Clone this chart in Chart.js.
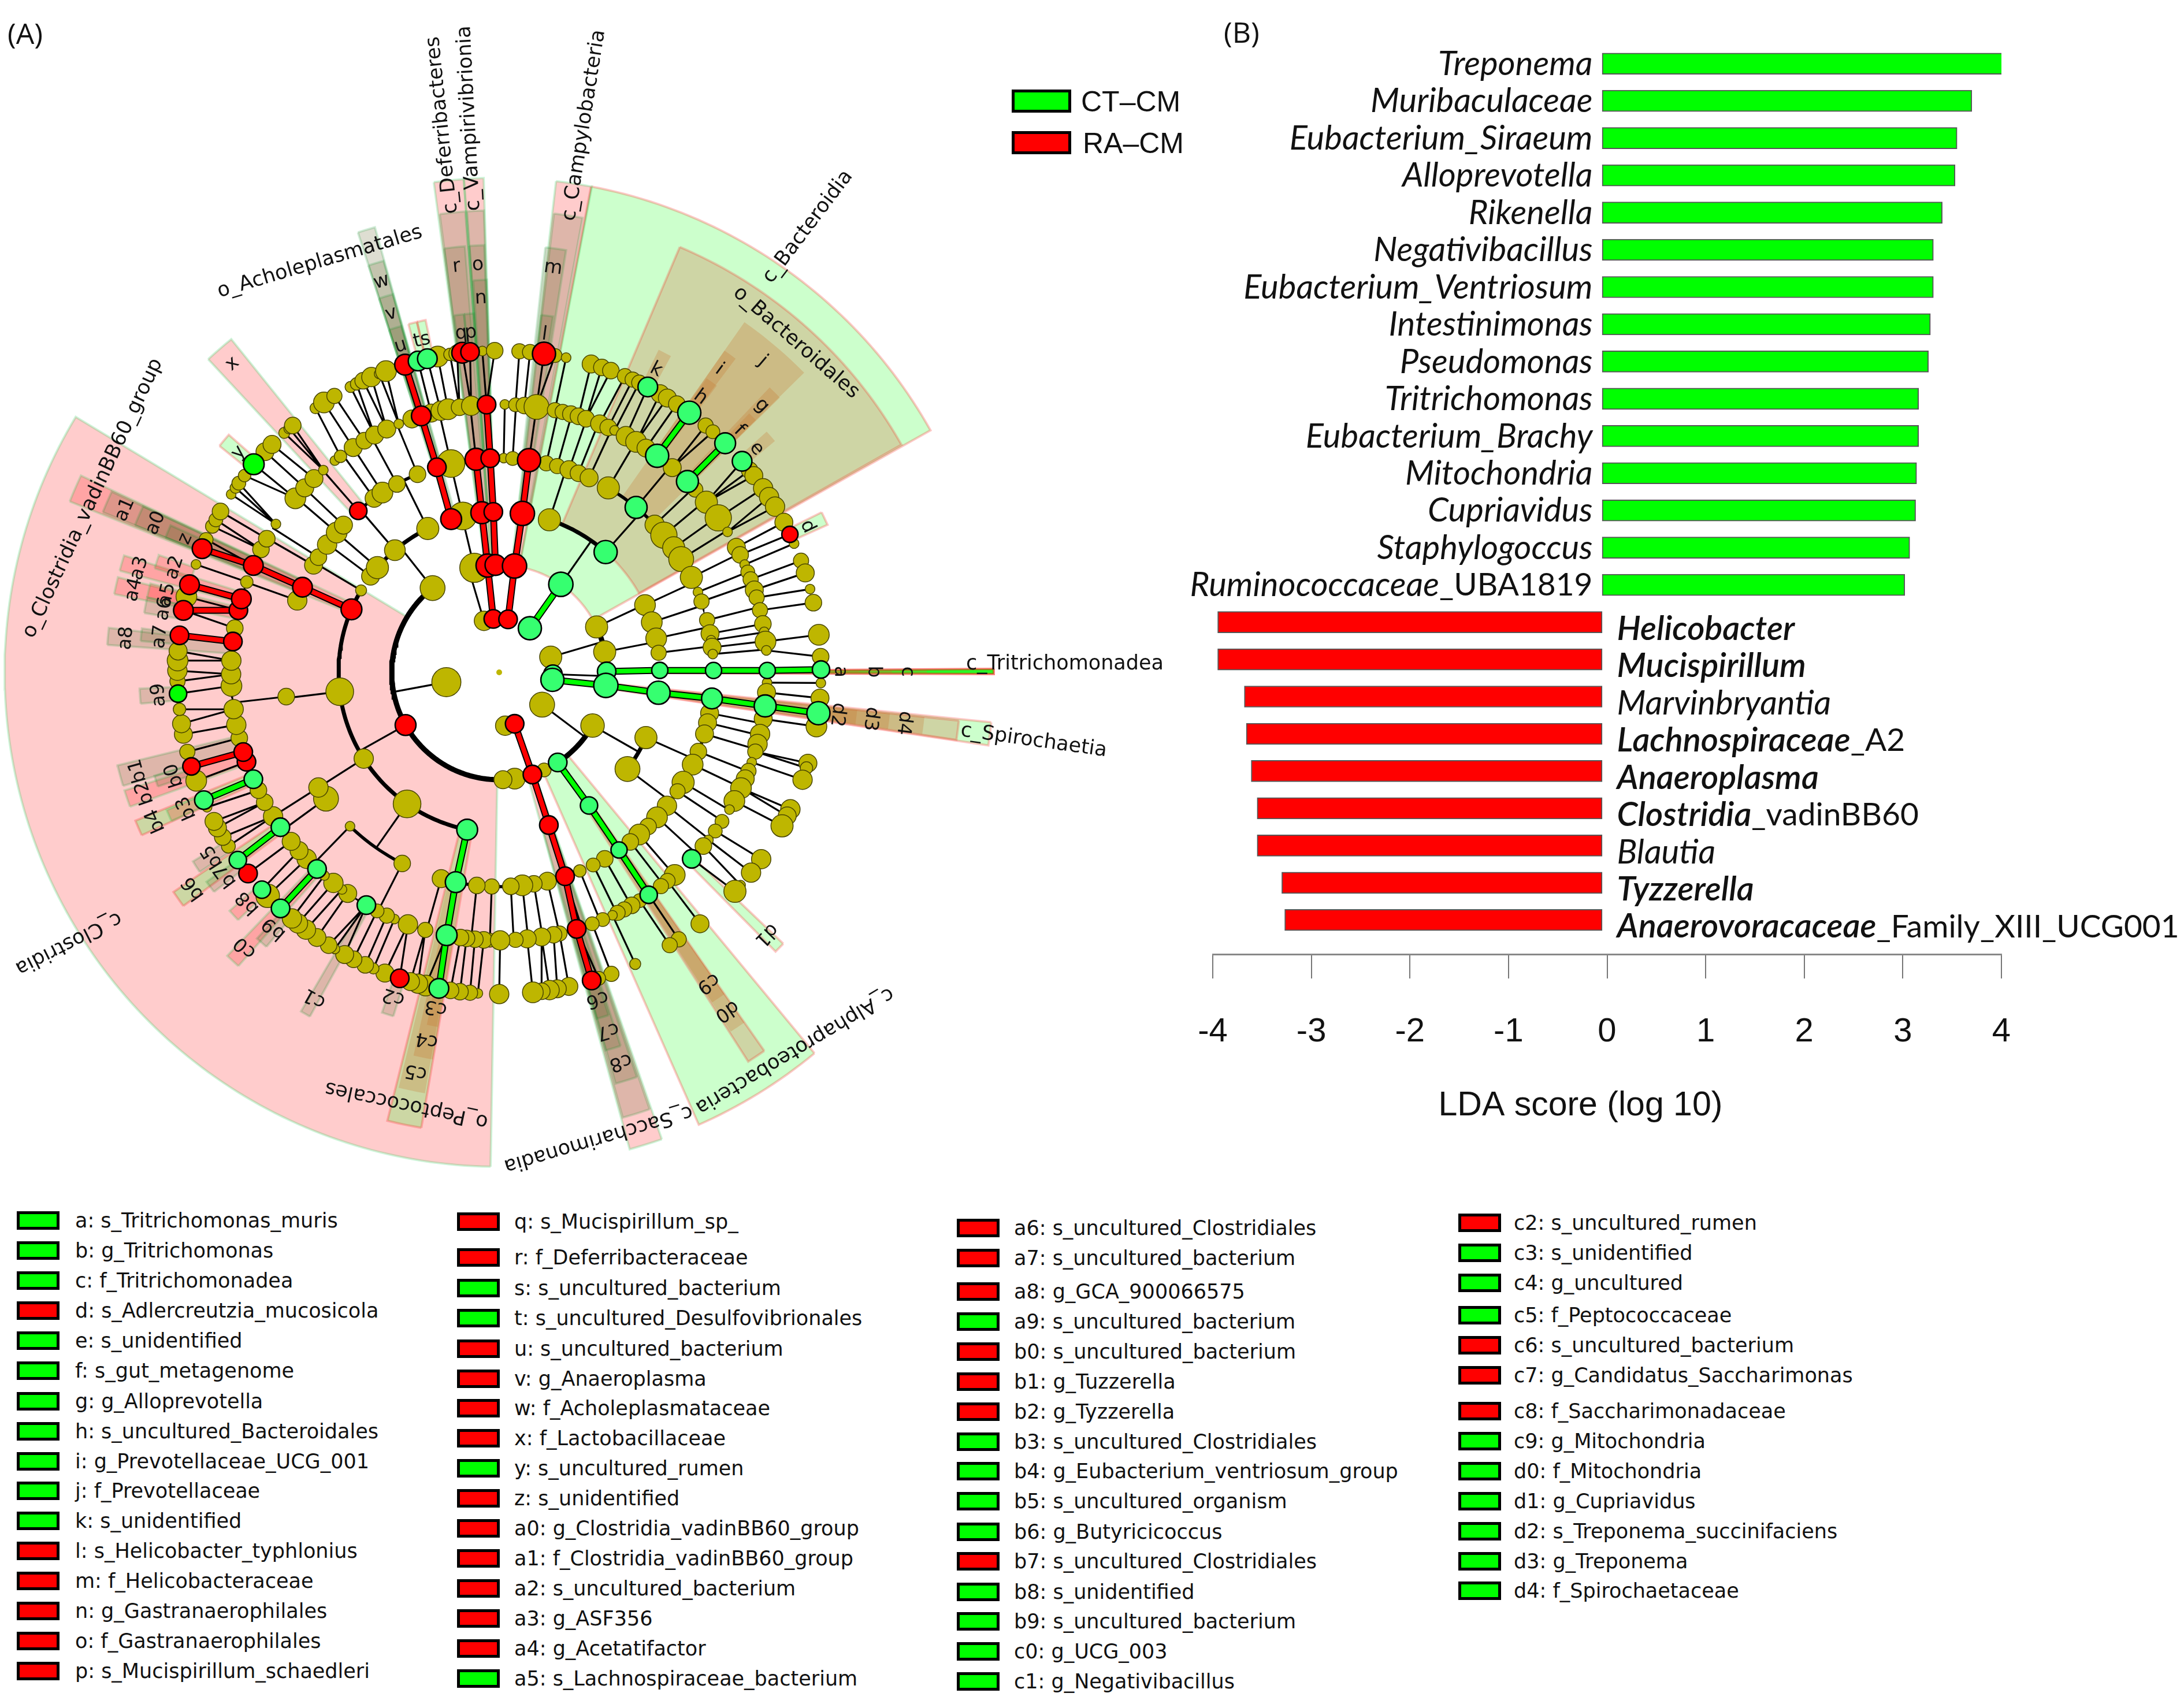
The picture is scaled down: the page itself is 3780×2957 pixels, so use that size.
<!DOCTYPE html>
<html>
<head>
<meta charset="utf-8">
<script src="https://cdn.jsdelivr.net/npm/chart.js@4"></script>
<style>
  body { margin: 0; background: #fff; width: 3780px; height: 2957px; position: relative; overflow: hidden; }
  canvas { position: absolute; top: 0; }
  .t { position: absolute; white-space: nowrap; line-height: 1; transform: translateY(-50%); color: #111; }
  .sw { position: absolute; box-sizing: border-box; border: 5px solid #000; transform: translateY(-50%); }
  .leg { font-family: "DejaVu Sans"; font-size: 35px; }
</style>
</head>
<body>
<canvas id="clado" width="2100" height="2060" style="left:0"></canvas>
<canvas id="bars" width="1740" height="2040" style="left:2040px"></canvas>
<script>
// ---- panel B values
const barNames = ['Treponema', 'Muribaculaceae', 'Eubacterium_Siraeum', 'Alloprevotella', 'Rikenella', 'Negativibacillus',
  'Eubacterium_Ventriosum', 'Intestinimonas', 'Pseudomonas', 'Tritrichomonas', 'Eubacterium_Brachy', 'Mitochondria',
  'Cupriavidus', 'Staphylogoccus', 'Ruminococcaceae', 'Helicobacter', 'Mucispirillum', 'Marvinbryantia',
  'Lachnospiraceae', 'Anaeroplasma', 'Clostridia', 'Blautia', 'Tyzzerella', 'Anaerovoracaceae'];
const barSuffix = { Ruminococcaceae: '_UBA1819', Lachnospiraceae: '_A2', Clostridia: '_vadinBB60', Anaerovoracaceae: '_Family_XIII_UCG001' };
const barBold = ['Helicobacter', 'Mucispirillum', 'Lachnospiraceae', 'Anaeroplasma', 'Clostridia', 'Tyzzerella', 'Anaerovoracaceae'];
const barValues = [4.02, 3.70, 3.55, 3.53, 3.40, 3.31, 3.31, 3.28, 3.26, 3.16, 3.16, 3.14, 3.13, 3.07, 3.02,
  -3.95, -3.95, -3.68, -3.66, -3.61, -3.55, -3.55, -3.30, -3.27];

// ---- panel A key
const keyNames = ['a: s_Tritrichomonas_muris', 'b: g_Tritrichomonas', 'c: f_Tritrichomonadea', 'd: s_Adlercreutzia_mucosicola',
  'e: s_unidentified', 'f: s_gut_metagenome', 'g: g_Alloprevotella', 'h: s_uncultured_Bacteroidales', 'i: g_Prevotellaceae_UCG_001',
  'j: f_Prevotellaceae', 'k: s_unidentified', 'l: s_Helicobacter_typhlonius', 'm: f_Helicobacteraceae', 'n: g_Gastranaerophilales',
  'o: f_Gastranaerophilales', 'p: s_Mucispirillum_schaedleri',
  'q: s_Mucispirillum_sp_', 'r: f_Deferribacteraceae', 's: s_uncultured_bacterium', 't: s_uncultured_Desulfovibrionales',
  'u: s_uncultured_bacterium', 'v: g_Anaeroplasma', 'w: f_Acholeplasmataceae', 'x: f_Lactobacillaceae', 'y: s_uncultured_rumen',
  'z: s_unidentified', 'a0: g_Clostridia_vadinBB60_group', 'a1: f_Clostridia_vadinBB60_group', 'a2: s_uncultured_bacterium',
  'a3: g_ASF356', 'a4: g_Acetatifactor', 'a5: s_Lachnospiraceae_bacterium',
  'a6: s_uncultured_Clostridiales', 'a7: s_uncultured_bacterium', 'a8: g_GCA_900066575', 'a9: s_uncultured_bacterium',
  'b0: s_uncultured_bacterium', 'b1: g_Tuzzerella', 'b2: g_Tyzzerella', 'b3: s_uncultured_Clostridiales',
  'b4: g_Eubacterium_ventriosum_group', 'b5: s_uncultured_organism', 'b6: g_Butyricicoccus', 'b7: s_uncultured_Clostridiales',
  'b8: s_unidentified', 'b9: s_uncultured_bacterium', 'c0: g_UCG_003', 'c1: g_Negativibacillus',
  'c2: s_uncultured_rumen', 'c3: s_unidentified', 'c4: g_uncultured', 'c5: f_Peptococcaceae', 'c6: s_uncultured_bacterium',
  'c7: g_Candidatus_Saccharimonas', 'c8: f_Saccharimonadaceae', 'c9: g_Mitochondria', 'd0: f_Mitochondria', 'd1: g_Cupriavidus',
  'd2: s_Treponema_succinifaciens', 'd3: g_Treponema', 'd4: f_Spirochaetaceae'];
const keyGroups = 'gggrgggggggrrrrr' + 'rrggrrrrgrrrrrrg' + 'rrrgrrrggggrgggg' + 'rgggrrrgggggg';

// ---- cladogram nodes: [angle clockwise from top, dot size, kind] kind 1 mint, 2 red, 3 pure green
const phylumNodes = [[-100.5, 21], [-16.5, 14], [-6.3, 16, 2], [9.5, 16, 2], [34.8, 20, 1], [73.5, 16], [92, 16, 1], [98, 20, 1],
  [127, 18], [163.3, 16, 2], [173.6, 14]];
// class and order nodes carry their parent's angle as a fourth value
const classNodes = [[-119.4, 18, 2, -100.5], [-38.3, 18, 0, -100.5], [-13.4, 21, 0, -16.5], [-6.2, 20, 2, -6.3], [-2, 18, 2, -6.3],
  [8.2, 21, 2, 9.5], [35, 21, 1, 34.8], [65, 16, 0, 73.5], [79, 16, 0, 73.5], [89.5, 16, 1, 92], [97, 21, 1, 98], [119.7, 17, 0, 127],
  [147, 16, 1, 127], [155.3, 10, 0, 163.3], [162, 16, 2, 163.3], [171.7, 15, 0, -100.5], [178, 13, 0, -100.5]];
const orderNodes = [[-168.5, 18, 1, -119.4], [-145, 20, 0, -119.4], [-122.5, 14, 0, -119.4], [-96.9, 20, 0, -119.4], [-66.9, 18, 2, -119.4],
  [-59.3, 8, 0, -119.4], [-53.2, 13, 0, -38.3], [-49.3, 16, 0, -38.3], [-40.5, 15, 0, -38.3], [-26.4, 16, 0, -38.3], [-17.4, 18, 2, -13.4],
  [-13.1, 20, 0, -13.4], [-6.2, 19, 2, -6.2], [-2.1, 16, 2, -2], [8.3, 21, 2, 8.2], [18.2, 16, 0, 35], [41.5, 20, 1, 35], [65.2, 15, 0, 65],
  [71.8, 15, 0, 65], [77.8, 15, 0, 79], [83, 11, 0, 79], [89.3, 14, 1, 89.5], [97.3, 20, 1, 97], [114, 16, 0, 119.7], [127, 18, 0, 119.7],
  [146, 15, 1, 147], [162, 16, 2, 162]];
const familyNodes = [[-178, 11], [-174, 12], [-168.3, 18, 1], [-164.3, 13], [-153.1, 12], [-135.9, 7], [-126.1, 18], [-122.5, 14], [-96.5, 12],
  [-70.4, 14], [-66.6, 17, 2], [-60, 13], [-57.5, 12], [-53.4, 14], [-49.3, 15], [-46.6, 13], [-41.1, 15, 2], [-35.7, 13], [-33, 15], [-28.5, 12],
  [-22.4, 12], [-16.9, 16, 2], [-13, 20], [-6.2, 19, 2], [-2.4, 16, 2], [1.2, 7], [3.6, 10], [8, 20, 2], [12.7, 11], [15.7, 11], [19, 13],
  [21.7, 12], [24.8, 13], [30.6, 16], [39.7, 19, 1], [46.5, 14], [50.2, 19], [54.5, 16], [58.1, 18], [63.7, 16], [68, 7], [70.7, 11], [75.9, 11],
  [79.6, 13], [81.4, 7], [83.3, 13], [85.1, 7], [89.5, 14, 1], [97, 18, 1], [101, 13], [103.6, 13], [106.7, 13], [111.7, 12], [115.5, 15],
  [120.9, 16], [123.7, 11], [128.5, 14], [132.6, 15], [136, 12], [139.2, 15], [142.3, 12], [146, 14, 1], [150.5, 12], [154, 10], [157.9, 9],
  [162.1, 16, 2], [167, 13], [170.7, 12], [173.8, 15], [176.9, 12]];
const genusNodes = [[-178, 10], [-176.7, 12], [-174.8, 12], [-173, 12], [-171.7, 12], [-168.7, 18, 1], [-164, 11], [-160.1, 14], [-157, 7],
  [-155.2, 11], [-152.9, 10], [-150.3, 16, 1], [-145.6, 13], [-144.1, 7], [-141.8, 14], [-139.3, 7], [-137.2, 16, 1], [-134.1, 14], [-131.7, 13],
  [-129.1, 13], [-125.3, 16, 1], [-122.5, 14], [-119, 12], [-116.1, 12], [-113.5, 16, 1], [-109.5, 16, 2], [-107.3, 16, 2], [-104.2, 12],
  [-101.3, 14], [-97.9, 14], [-92.9, 15], [-90.4, 14], [-87.5, 14], [-83.4, 16, 2], [-80.5, 12], [-76.6, 16, 2], [-74.1, 17, 2], [-70.3, 9],
  [-66.5, 17, 2], [-62.7, 12], [-60.1, 12], [-56.4, 7], [-49.5, 15], [-46.5, 13], [-43.7, 13], [-41, 7], [-37.8, 7], [-36.3, 9], [-33, 13],
  [-30.2, 12], [-27.7, 13], [-24.8, 13], [-22, 7], [-19, 13], [-16.9, 17, 2], [-14.7, 13], [-12.6, 14], [-11, 15], [-8.5, 12], [-6, 14],
  [-2.7, 16, 2], [1.2, 7], [3.5, 10], [5.4, 12], [8, 18], [12, 11], [13.7, 11], [15.5, 12], [17.2, 12], [18.9, 12], [22, 13], [24, 12], [25.5, 7],
  [28.2, 14], [30.7, 15], [33.2, 13], [36.1, 20, 1], [40.2, 13], [44.6, 19, 1], [47, 11], [50.6, 16], [54.8, 19], [58.4, 7], [62.2, 13], [64, 12],
  [66.3, 7], [68, 10], [69.7, 11], [72.1, 13], [73.8, 11], [76.6, 11], [79.6, 12], [81.3, 7], [83.4, 15], [85.3, 7], [89.6, 14, 1], [92.2, 7],
  [94.3, 13], [97.2, 19, 1], [100, 13], [103.3, 14], [105.5, 14], [107.2, 11], [109.6, 7], [111.6, 11], [113.4, 13], [115.6, 15], [118.7, 15],
  [120.8, 7], [123.8, 10], [126.3, 10], [128.7, 7], [130.4, 12], [134.1, 16, 1], [139.1, 15], [141.1, 11], [142.9, 11], [146.1, 15, 1], [148.4, 10],
  [150.4, 12], [152.2, 11], [153.8, 11], [155, 7], [157.3, 10], [159.7, 10], [163.2, 16, 2], [167, 11], [168.3, 12], [170.9, 13], [174, 13],
  [176.5, 11], [179.8, 14]];
const speciesNodes = [[-17, 18, 2], [-14.6, 17, 1], [-12.9, 17, 1], [-11, 15], [-8.8, 9], [-7.5, 12], [-6.6, 18, 2], [-5.2, 16, 2], [-3, 7], [-0.8, 12],
  [3.6, 11], [5.5, 11], [8, 20, 2], [10, 10], [12, 7], [16.6, 13], [18.6, 12], [20.3, 12], [23, 11], [24.5, 11], [25.8, 11], [27.5, 17, 1], [30, 13],
  [31.5, 13], [33.5, 12], [36.2, 20, 1], [39.9, 11], [41.6, 10], [44.6, 18, 1], [49, 17, 1], [51.1, 12], [52.3, 13], [55.1, 14], [57, 14], [59, 14],
  [62.2, 13], [64.6, 14, 2], [66.4, 7], [69.7, 11], [72, 13], [75, 7], [77.5, 12], [83.3, 15], [87.2, 12], [89.5, 15, 1], [91.9, 7], [94.6, 13],
  [97.3, 20, 1], [99.7, 15], [106.4, 13], [107.3, 9], [109.5, 14], [115.2, 14], [116.5, 13], [118.5, 16], [125.5, 14], [128.5, 14], [131.4, 7],
  [132.9, 16], [141.4, 13], [146.1, 11], [148, 11], [155, 8], [159.6, 11], [162, 10], [163.3, 16, 2], [167.5, 13], [169.6, 13], [171, 14], [172.4, 12],
  [174, 15], [180, 14], [-176.2, 7], [-174.8, 11], [-173, 12], [-171.3, 12], [-169.2, 17, 1], [-166.8, 15], [-165.4, 14], [-164, 13], [-162, 16, 2],
  [-159.2, 13], [-157, 8], [-155.4, 12], [-153.1, 12], [-151.3, 13], [-149.3, 7], [-148, 12], [-145.5, 13], [-143.1, 14], [-141.3, 14], [-139.9, 14],
  [-137.2, 16, 1], [-134, 17], [-132.5, 15, 1], [-128.7, 16, 2], [-125.7, 15, 1], [-122.7, 10], [-120.8, 12], [-118.9, 13], [-117.6, 13], [-114.8, 7],
  [-113.4, 16, 1], [-109.7, 15], [-107, 15, 2], [-104.3, 11], [-101.1, 13], [-99.2, 13], [-96.6, 9], [-93.8, 15, 3], [-91.6, 11], [-89.7, 14],
  [-87.9, 15], [-86.2, 13], [-83.4, 16, 2], [-78.9, 17, 2], [-76.4, 15], [-74.2, 17, 2], [-70.4, 7], [-67.4, 17, 2], [-65.6, 10], [-63, 10], [-61.7, 10],
  [-60, 12], [-56.4, 7], [-55, 8], [-54, 10], [-52.3, 9], [-49.7, 18, 3], [-46.7, 13], [-44.9, 13], [-41.9, 8], [-40.7, 8], [-39.9, 12], [-34.8, 8],
  [-33, 15], [-30.8, 11], [-27.5, 8], [-26.3, 9], [-25, 12], [-23.4, 14], [-21.9, 7], [-20.6, 15]];
// coloured nodes here keep a plain black branch
const plainBranch = [39.7, 41.5];

// ---- shaded clades: [letter, level, from angle, to angle, kind]
const cladeShades = [
  ['', 2, 10.7, 60.7, 'g'], ['', 2, 6.6, 10.8, 'r'], ['', 2, -7.6, -4.1, 'r'], ['', 2, -4.1, -1.8, 'r'], ['', 2, -179, -58.9, 'r'],
  ['', 2, 160.8, 164.7, 'r'], ['', 2, 140.4, 156.2, 'g'], ['', 2, 89.6, 90.2, 'G'], ['', 2, 95.8, 98.5, 'g'],
  ['', 3, 23, 60.5, 'b'], ['', 3, -68.3, -64.8, 'r'], ['', 3, -170.3, -166, 'g'], ['', 3, -17.8, -15.6, 't'], ['', 3, 6.8, 10.4, 't'],
  ['', 3, -7.4, -4.2, 't'], ['', 3, -4, -1.9, 't'], ['', 3, 145, 147.4, 'b'], ['', 3, 161, 164.5, 't'], ['', 3, 96, 98.4, 'b'],
  ['j', 4, 35, 45.5, 'o'], ['x', 4, -42.9, -38.8, 'r'], ['w', 4, -17.8, -15.7, 't'], ['r', 4, -7.4, -4.6, 't'], ['o', 4, -4, -2, 't'],
  ['m', 4, 6.2, 9, 't'], ['a1', 4, -68, -65, 't'], ['c5', 4, -170, -166.4, 'o'], ['c8', 4, 161.2, 164.2, 't'], ['d0', 4, 145, 147.2, 'o'],
  ['d4', 4, 96, 98.3, 'o'], ['c', 4, 89.7, 90.1, 'o'],
  ['i', 5, 35, 37, 'o'], ['g', 5, 43.5, 45.6, 'o'], ['n', 5, -3.8, -1.8, 't'], ['v', 5, -17.8, -15.7, 't'], ['a0', 5, -68, -65, 't'],
  ['a3', 5, -75, -72.7, 'r'], ['a4', 5, -78.5, -76, 'r'], ['a8', 5, -86, -83.5, 't'], ['b1', 5, -106.8, -103.7, 't'], ['b2', 5, -110, -107.5, 'r'],
  ['b4', 5, -114.5, -112.2, 'g'], ['b6', 5, -126.5, -124, 'g'], ['c0', 5, -138.4, -136.2, 'r'], ['c1', 5, -151.2, -149.7, 't'], ['c4', 5, -170.3, -167.4, 'o'],
  ['c7', 5, 162, 164.3, 't'], ['c9', 5, 145, 147.2, 'o'], ['d1', 5, 133.7, 135.3, 'g'], ['d3', 5, 96, 98.3, 'o'], ['b', 5, 89.7, 90.1, 'o'],
  ['k', 6, 26.3, 28.5, 'o'], ['h', 6, 35.2, 37.2, 'o'], ['f', 6, 44, 45.5, 'o'], ['e', 6, 48, 50, 'o'], ['d', 6, 63.6, 65.8, 'g'],
  ['l', 6, 6.7, 8.6, 't'], ['q', 6, -7.2, -5.6, 't'], ['p', 6, -5.6, -4, 't'], ['u', 6, -17.8, -15.8, 't'], ['t', 6, -14.6, -13.2, 'g'], ['s', 6, -13.2, -11.8, 'g'],
  ['y', 6, -51, -48.7, 'g'], ['z', 6, -68, -65.9, 't'], ['a2', 6, -73.2, -71, 'r'], ['a5', 6, -78, -75.7, 'r'], ['a6', 6, -80.5, -78, 't'], ['a7', 6, -85, -83, 't'],
  ['a9', 6, -95, -92.6, 't'], ['b0', 6, -108.5, -106.7, 't'], ['b3', 6, -114.4, -112.5, 'r'], ['b5', 6, -123.7, -121.7, 't'], ['b7', 6, -127.6, -125.6, 't'],
  ['b8', 6, -133.5, -131.5, 'r'], ['b9', 6, -139.7, -137.7, 't'], ['c2', 6, -162.9, -161, 't'], ['c3', 6, -170.2, -168.4, 'o'],
  ['c6', 6, 162.3, 164.3, 't'], ['d2', 6, 96, 98.3, 'o'], ['a', 6, 89.7, 90.1, 'o']];

// ---- clade names: [text, angle, radius, rotation, align]
const cladeNames = [
  ['c_Deferribacteres', -5.9, 798, -96, 'left'], ['c_Vampirivibrionia', -3.1, 800, -93, 'left'], ['c_Campylobacteria', 8.8, 791, -81, 'left'],
  ['c_Bacteroidia', 34.4, 821, -53, 'left'], ['o_Bacteroidales', 42, 768, 41, 'center'], ['c_Tritrichomonadea', 89, 808, 0, 'left'],
  ['c_Spirochaetia', 97.2, 805, 8, 'left'], ['c_Alphaproteobacteria', 142, 830, 149, 'center'], ['c_Saccharimonadia', 168, 825, 163.5, 'center'],
  ['o_Peptococcales', -167.9, 765, 192, 'center'], ['c_Clostridia', -122.8, 780, 153, 'left'], ['o_Clostridia_vadinBB60_group', -66.8, 765, -65, 'center'],
  ['o_Acholeplasmatales', -23.6, 775, -16.5, 'center']];

// layout of the page, kept apart from the values above
const cx = 864, cy = 1164;
const ringR = [0, 93, 186, 278, 371, 464, 557];
const shadeOuter = { 2: 856, 3: 800, 4: 740, 5: 680, 6: 623 };
const labelR = { 4: 706, 5: 648, 6: 590 };
const rings = [null, phylumNodes, classNodes, orderNodes, familyNodes, genusNodes, speciesNodes];
const arcWidth = { 2: 9, 3: 7, 4: 5.5, 5: 3 };
const oliveScale = 1.2;
const nodeFill = ['rgb(190,182,0)', '#36ff70', '#ff0000', '#00ff00'];
const shadeFill = { r: 'rgba(255,0,0,0.2)', g: 'rgba(0,255,0,0.2)', G: 'rgba(0,255,0,0.85)', t: 'rgba(90,90,30,0.2)', o: 'rgba(200,110,40,0.25)', b: 'rgba(207,115,74,0.3)' };
const shadeEdge = { r: 'rgba(0,200,60,0.2)', g: 'rgba(255,0,0,0.22)', G: 'rgba(255,0,0,0.5)', t: 'rgba(0,150,40,0.18)', o: 'rgba(255,0,0,0)', b: 'rgba(255,0,0,0.2)' };

const rad = d => d * Math.PI / 180;
const pt = (r, a) => ({ x: r * Math.sin(rad(a)), y: r * Math.cos(rad(a)) });
const gap = { x: NaN, y: NaN };
const delta = (a, p) => ((a - p + 540) % 360) - 180;

function nearest(list, a, test) {
  let best = null;
  list.forEach(n => {
    if (test && !test(n)) return;
    if (!best || Math.abs(delta(n[0], a)) < Math.abs(delta(best[0], a))) best = n;
  });
  return best;
}

// branch lines
const thinLines = [];
const arcLines = { 2: [], 3: [], 4: [], 5: [] };
const colourLines = { 1: [], 2: [] };
for (let k = 2; k <= 6; k++) {
  const groups = new Map();
  rings[k].forEach(n => {
    const p = nearest(rings[k - 1], n[3] !== undefined ? n[3] : n[0]);
    if (k === 6) thinLines.push(pt(ringR[6], n[0]), pt(ringR[5], p[0]), gap);
    else {
      if (!groups.has(p)) groups.set(p, []);
      groups.get(p).push(n);
    }
    if (n[2] && !plainBranch.includes(n[0])) {
      const same = nearest(rings[k - 1], n[0], m => m[2] && (m[2] === 2) === (n[2] === 2));
      if (same && Math.abs(delta(same[0], n[0])) < 2.4 && !plainBranch.includes(same[0])) {
        colourLines[n[2] === 2 ? 2 : 1].push(pt(ringR[k], n[0]), pt(ringR[k - 1], same[0]), gap);
      }
    }
  });
  groups.forEach((kids, p) => {
    thinLines.push(pt(ringR[k - 1], p[0]), pt(ringR[k], p[0]), gap);
    const ds = kids.map(n => delta(n[0], p[0]));
    const lo = Math.min(0, ...ds), hi = Math.max(0, ...ds);
    for (let d = lo; d < hi; d += 1) arcLines[k].push(pt(ringR[k], p[0] + d));
    arcLines[k].push(pt(ringR[k], p[0] + hi), gap);
  });
}

// painter's order: first entry ends up underneath
const layers = [];
cladeShades.forEach(s => {
  const poly = [];
  const inner = ringR[s[1]], outer = shadeOuter[s[1]];
  for (let a = s[2]; a < s[3]; a += 1) poly.push(pt(outer, a));
  poly.push(pt(outer, s[3]));
  for (let a = s[3]; a > s[2]; a -= 1) poly.push(pt(inner, a));
  poly.push(pt(inner, s[2]), pt(outer, s[2]));
  layers.push({ type: 'line', data: poly, fill: 'shape', backgroundColor: shadeFill[s[4]], borderColor: shadeEdge[s[4]],
    borderWidth: 4, pointRadius: 0, tension: 0 });
});
const lineLayer = (data, color, width) => layers.push({ type: 'line', data, borderColor: color, borderWidth: width,
  fill: false, pointRadius: 0, tension: 0, borderCapStyle: 'round', spanGaps: false });
lineLayer(thinLines, '#000', 3.2);
[5, 4, 3, 2].forEach(k => lineLayer(arcLines[k], '#000', arcWidth[k]));
lineLayer(colourLines[1], '#000', 12);
lineLayer(colourLines[2], '#000', 12);
lineLayer(colourLines[1], '#00ff00', 8);
lineLayer(colourLines[2], '#ff0000', 8);

// dots: olive underneath, coloured on top
[[0], [1, 2, 3]].forEach(kinds => {
  const dots = [];
  rings.forEach((ring, k) => {
    if (ring) ring.forEach(n => { if (kinds.includes(n[2] || 0)) dots.push({ r: ringR[k], n }); });
  });
  layers.push({ type: 'scatter', data: dots.map(d => pt(d.r, d.n[0])), pointRadius: dots.map(d => d.n[1] * (d.n[2] ? 1 : oliveScale)),
    pointBackgroundColor: dots.map(d => nodeFill[d.n[2] || 0]), pointBorderColor: dots.map(d => (d.n[2] ? '#000' : '#4a4700')),
    pointBorderWidth: dots.map(d => (d.n[2] ? 2.6 : 1.5)), showLine: false });
});
layers.push({ type: 'scatter', data: [{ x: 0, y: 0 }], pointRadius: 5, pointBackgroundColor: nodeFill[0], pointBorderWidth: 0, showLine: false });
layers.forEach((l, i) => { l.order = layers.length - i; l.clip = false; });

const cladeText = {
  id: 'cladeText',
  afterDatasetsDraw(chart) {
    const { ctx, scales: { x, y } } = chart;
    const put = (text, a, r, rot, align, size) => {
      const p = pt(r, a);
      ctx.save();
      ctx.translate(x.getPixelForValue(p.x), y.getPixelForValue(p.y));
      ctx.rotate(rad(rot));
      ctx.font = size + 'px "DejaVu Sans"';
      ctx.fillStyle = '#111';
      ctx.textAlign = align;
      ctx.textBaseline = 'middle';
      ctx.fillText(text, 0, 0);
      ctx.restore();
    };
    cladeShades.forEach(s => {
      if (s[0]) put(s[0], (s[2] + s[3]) / 2, labelR[s[1]], (s[2] + s[3]) / 2, 'center', 33);
    });
    cladeNames.forEach(n => put(n[0], n[1], n[2], n[3], n[4], 35));
  }
};

new Chart(document.getElementById('clado'), {
  type: 'scatter',
  data: { datasets: layers },
  plugins: [cladeText],
  options: {
    responsive: false, animation: false, events: [],
    layout: { padding: 0, autoPadding: false },
    plugins: { legend: { display: false }, tooltip: { enabled: false } },
    scales: {
      x: { type: 'linear', display: false, min: -cx, max: 2100 - cx },
      y: { type: 'linear', display: false, min: cy - 2060, max: cy }
    }
  }
});

// ---- panel B
const barText = {
  id: 'barText',
  afterDatasetsDraw(chart) {
    const { ctx, scales: { x, y } } = chart;
    barNames.forEach((name, i) => {
      const bold = barBold.includes(name);
      const first = (bold ? 'italic 600 ' : 'italic ') + '58px Lato';
      const second = '55px Lato';
      const rest = barSuffix[name] || '';
      ctx.font = first;
      const w1 = ctx.measureText(name).width;
      ctx.font = second;
      const w2 = ctx.measureText(rest).width;
      const left = barValues[i] > 0;
      const x0 = left ? x.getPixelForValue(0) - 25 - w1 - w2 : x.getPixelForValue(0) + 17;
      const yy = y.getPixelForValue(i) + (left ? 1 : 12);
      ctx.textAlign = 'left';
      ctx.textBaseline = 'middle';
      ctx.fillStyle = '#111';
      ctx.font = first;
      ctx.fillText(name, x0, yy);
      ctx.font = second;
      ctx.fillText(rest, x0 + w1, yy);
    });
    ctx.font = '59px "Liberation Sans"';
    ctx.textAlign = 'center';
    ctx.fillText('LDA score (log 10)', x.getPixelForValue(-0.27), 1915);
  }
};

new Chart(document.getElementById('bars'), {
  type: 'bar',
  data: {
    labels: barNames,
    datasets: [{
      data: barValues, base: -0.05, barThickness: 37,
      backgroundColor: barValues.map(v => (v > 0 ? '#00ff00' : '#ff0000')),
      borderColor: '#555', borderWidth: 2, borderSkipped: false
    }]
  },
  plugins: [barText],
  options: {
    indexAxis: 'y', responsive: false, animation: false, events: [],
    layout: { padding: { left: 59, right: 316, top: 78, bottom: 415 }, autoPadding: false },
    plugins: { legend: { display: false }, tooltip: { enabled: false } },
    scales: {
      y: { type: 'category', display: false },
      x: {
        type: 'linear', min: -4, max: 4, position: { y: 23.92 },
        afterFit(scale) { scale.paddingLeft = 0; scale.paddingRight = 0; },
        grid: { drawOnChartArea: false, color: '#777', lineWidth: 2, tickLength: 40 },
        border: { color: '#888', width: 3 },
        ticks: { stepSize: 1, color: '#111', padding: 60, maxRotation: 0, autoSkip: false, font: { family: 'Liberation Sans', size: 58 } }
      }
    }
  }
});

// ---- html text and keys
function addText(text, x, y, css, cls) {
  const d = document.createElement('div');
  d.className = 't ' + (cls || '');
  d.textContent = text;
  d.style.left = x + 'px';
  d.style.top = y + 'px';
  d.style.cssText += css || '';
  document.body.appendChild(d);
}
function addSwatch(x, y, w, h, color) {
  const d = document.createElement('div');
  d.className = 'sw';
  d.style.cssText = `left:${x}px;top:${y}px;width:${w}px;height:${h}px;background:${color}`;
  document.body.appendChild(d);
}
addText('(A)', 13, 57, 'font:50px "Open Sans"');
addText('(B)', 2118, 55, 'font:50px "Open Sans"');
addSwatch(1751, 175, 103, 40, '#00ff00');
addSwatch(1751, 247, 103, 40, '#ff0000');
addText('CT\u2013CM', 1871, 176, 'font:50px "Liberation Sans"');
addText('RA\u2013CM', 1874, 248, 'font:50px "Liberation Sans"');

const keyColumns = [
  { swatch: 29, text: 130, rows: [2113, 2165, 2217, 2269, 2321, 2373, 2426, 2478, 2530, 2581, 2633, 2685, 2737, 2789, 2841, 2893] },
  { swatch: 791, text: 890, rows: [2115, 2177, 2230, 2282, 2335, 2387, 2438, 2490, 2542, 2594, 2646, 2698, 2750, 2802, 2854, 2906] },
  { swatch: 1656, text: 1755, rows: [2126, 2178, 2236, 2288, 2340, 2392, 2444, 2496, 2547, 2599, 2652, 2703, 2756, 2807, 2859, 2911] },
  { swatch: 2524, text: 2620, rows: [2117, 2169, 2221, 2277, 2329, 2381, 2443, 2495, 2547, 2599, 2651, 2703, 2754] }
];
let keyIndex = 0;
keyColumns.forEach(col => col.rows.forEach(y => {
  addSwatch(col.swatch, y, 74, 32, keyGroups[keyIndex] === 'g' ? '#00ff00' : '#ff0000');
  addText(keyNames[keyIndex], col.text, y, '', 'leg');
  keyIndex++;
}));
</script>
</body>
</html>
